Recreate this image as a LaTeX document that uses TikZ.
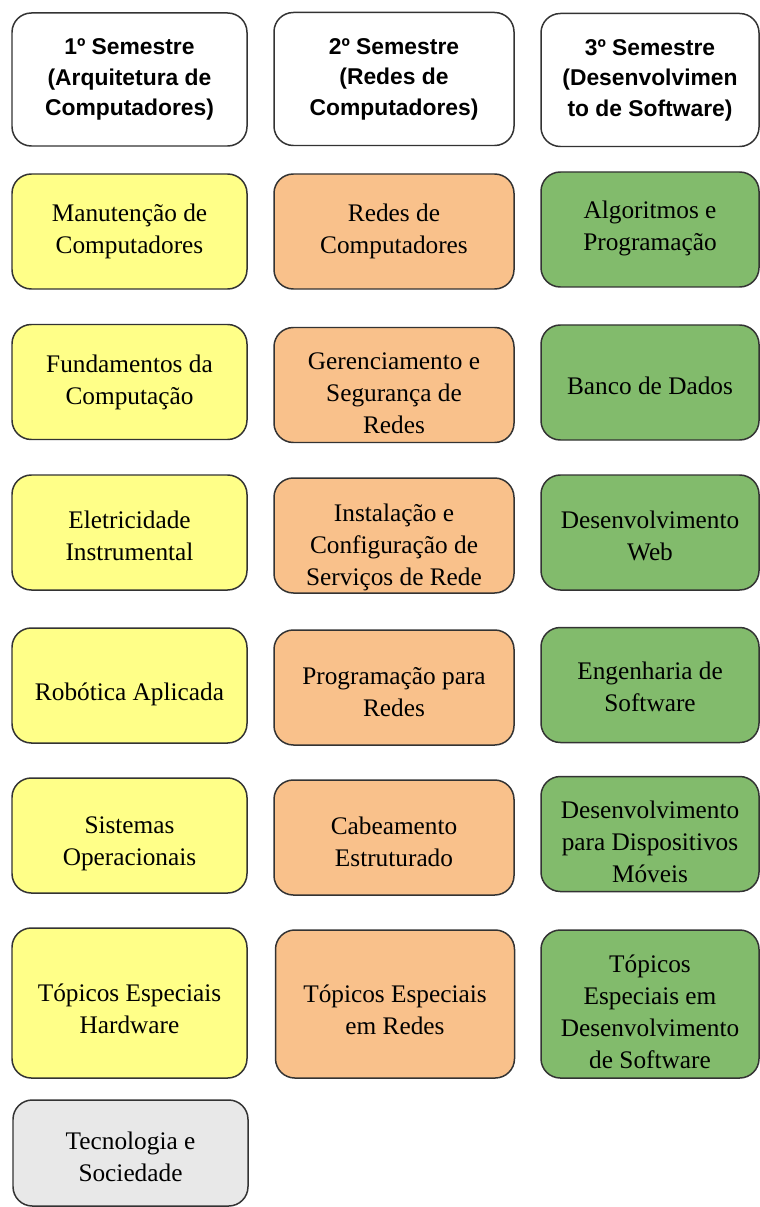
\documentclass[tikz,border=0pt]{standalone}
\usepackage{fontspec}
\setmainfont{Liberation Serif}
\newfontfamily\headfont{Liberation Sans}
\usepackage{xcolor}
\usepackage{tikz}

\definecolor{arqcolor}{HTML}{FFFF88}
\definecolor{redescolor}{HTML}{F9C18B}
\definecolor{softcolor}{HTML}{82BB6C}
\definecolor{geralcolor}{HTML}{E8E8E8}
\definecolor{bordercolor}{HTML}{333333}

% text of a box, lowered a little inside its box
\newcommand{\cell}[2][4pt]{\raisebox{-#1}[\height][\depth]{\begin{tabular}{@{}c@{}}#2\end{tabular}}}

\tikzset{
	box/.style={draw=bordercolor, line width=0.85pt, rounded corners=11pt, align=center,
		inner sep=0pt, minimum height=2.30cm, font=\fontsize{14.4}{18.2}\selectfont},
	semestre/.style={box, fill=white, minimum height=2.66cm,
		font=\headfont\bfseries\fontsize{13}{17.3}\selectfont},
	arq/.style={box, fill=arqcolor, minimum width=4.70cm},
	redes/.style={box, fill=redescolor, minimum width=4.80cm},
	soft/.style={box, fill=softcolor, minimum width=4.36cm},
	geral/.style={box, fill=geralcolor, minimum width=4.70cm}
}

\begin{document}
\begin{tikzpicture}
				\useasboundingbox (0, 0) rectangle (15.18, -24.14);
				
				%Semestres
				\node[semestre, minimum width=4.70cm] (h1) at (2.59, -1.59) {1º Semestre\\(Arquitetura de\\Computadores)};
				\node[semestre, minimum width=4.80cm] (h2) at (7.88, -1.58) {2º Semestre\\(Redes de\\Computadores)};
				\node[semestre, minimum width=4.36cm] (h3) at (13.0, -1.60) {3º Semestre\\(Desenvolvimen\\to de Software)};
				
				%1º Semestre
				\node[arq] (a1) at (2.59, -4.63) {\cell[0pt]{Manutenção de\\Computadores}};
				\node[arq] (a2) at (2.59, -7.64) {\cell[0pt]{Fundamentos da\\Computação}};
				\node[arq] (a3) at (2.59, -10.65) {\cell[3pt]{Eletricidade\\Instrumental}};
				\node[arq] (a4) at (2.59, -13.71) {\cell[5pt]{Robótica Aplicada}};
				\node[arq] (a5) at (2.59, -16.71) {\cell[4.5pt]{Sistemas\\Operacionais}};
				\node[arq, minimum height=3.00cm] (a6) at (2.59, -20.06) {\cell[4.5pt]{Tópicos Especiais\\Hardware}};
				\node[geral, minimum height=2.12cm] (a7) at (2.61, -23.06) {\cell[3.5pt]{Tecnologia e\\Sociedade}};
				
				%2º Semestre
				\node[redes] (r1) at (7.88, -4.63) {\cell[0pt]{Redes de\\Computadores}};
				\node[redes] (r2) at (7.88, -7.70) {\cell[5.5pt]{Gerenciamento e\\Segurança de\\Redes}};
				\node[redes] (r3) at (7.88, -10.71) {\cell[6.5pt]{Instalação e\\Configuração de\\Serviços de Rede}};
				\node[redes] (r4) at (7.88, -13.75) {\cell[3.5pt]{Programação para\\Redes}};
				\node[redes] (r5) at (7.88, -16.75) {\cell[3.5pt]{Cabeamento\\Estruturado}};
				\node[redes, minimum height=2.96cm, minimum width=4.78cm] (r6) at (7.90, -20.08) {\cell[4.5pt]{Tópicos Especiais\\em Redes}};
				
				%3º Semestre
				\node[soft] (s1) at (13.0, -4.59) {\cell[-1pt]{Algoritmos e\\Programação}};
				\node[soft] (s2) at (13.0, -7.65) {\cell[3pt]{Banco de Dados}};
				\node[soft] (s3) at (13.0, -10.65) {\cell[3pt]{Desenvolvimento\\Web}};
				\node[soft] (s4) at (13.0, -13.70) {\cell[2.5pt]{Engenharia de\\Software}};
				\node[soft] (s5) at (13.0, -16.68) {\cell[6pt]{Desenvolvimento\\para Dispositivos\\Móveis}};
				\node[soft, minimum height=2.96cm] (s6) at (13.0, -20.08) {\cell[6pt]{Tópicos\\Especiais em\\Desenvolvimento\\de Software}};
			\end{tikzpicture}
\end{document}
